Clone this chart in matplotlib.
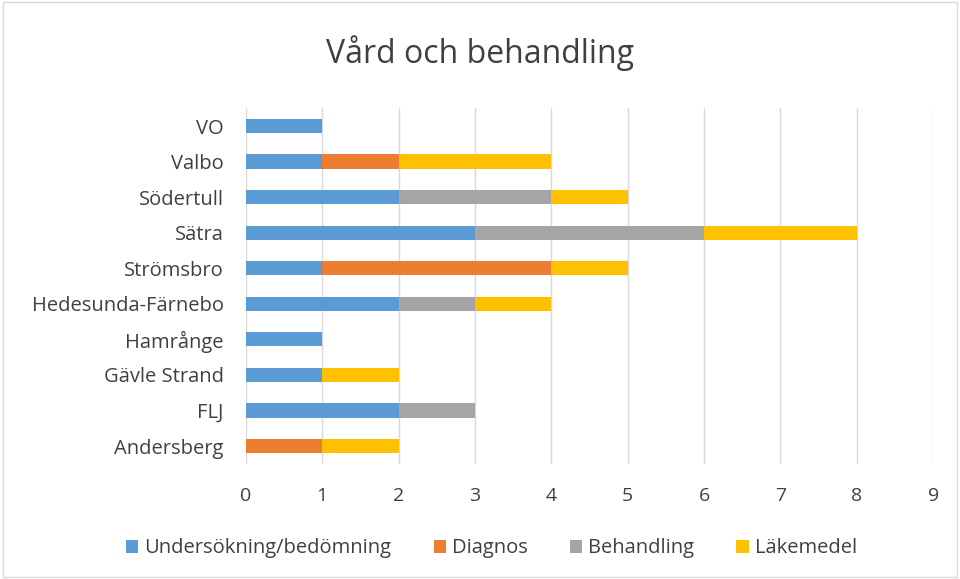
import matplotlib.pyplot as plt
import numpy as np

plt.rcParams['font.family'] = ['Open Sans', 'DejaVu Sans']

# bottom to top
units = ['Andersberg', 'FLJ', 'Gävle Strand', 'Hamrånge', 'Hedesunda-Färnebo',
         'Strömsbro', 'Sätra', 'Södertull', 'Valbo', 'VO']
undersokning = [0, 2, 1, 1, 2, 1, 3, 2, 1, 1]
diagnos = [1, 0, 0, 0, 0, 3, 0, 0, 1, 0]
behandling = [0, 1, 0, 0, 1, 0, 3, 2, 0, 0]
lakemedel = [1, 0, 1, 0, 1, 1, 2, 1, 2, 0]

series = [('Undersökning/bedömning', undersokning, '#5B9BD5'),
          ('Diagnos', diagnos, '#ED7D31'),
          ('Behandling', behandling, '#A5A5A5'),
          ('Läkemedel', lakemedel, '#FFC000')]

fig = plt.figure(figsize=(9.6, 5.79), dpi=100)
ax = fig.add_axes([0.256, 0.199, 0.716, 0.614])

y = np.arange(len(units))
left = np.zeros(len(units))
for name, vals, color in series:
    ax.barh(y, vals, left=left, height=0.4, color=color, label=name, zorder=3)
    left += np.array(vals)

ax.set_xlim(0, 9)
ax.set_ylim(-0.5, len(units) - 0.5)
ax.set_xticks(range(10))
ax.set_yticks(y)
ax.set_yticklabels(units)
ax.tick_params(axis='both', length=0, colors='#404040')
ax.tick_params(axis='x', pad=17, labelsize=14)
ax.tick_params(axis='y', pad=16, labelsize=14.5)
ax.grid(axis='x', color='#D9D9D9', linewidth=1, zorder=0)
for s in ax.spines.values():
    s.set_visible(False)

fig.text(0.5, 0.908, 'Vård och behandling', ha='center', va='center',
         fontsize=23, color='#404040')
fig.legend(loc='center', bbox_to_anchor=(0.512, 0.053), ncol=4, frameon=False,
           fontsize=14.5, handlelength=0.6, handleheight=0.6, columnspacing=2.1,
           handletextpad=0.3, labelcolor='#404040')

fig.patches.append(plt.Rectangle((0.003, 0.003), 0.994, 0.994, transform=fig.transFigure,
                                 fill=False, edgecolor='#D9D9D9', linewidth=1))

fig.savefig('out.png', dpi=100)
